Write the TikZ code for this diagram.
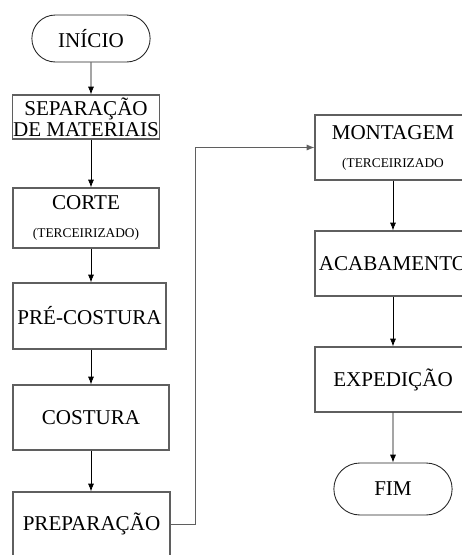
\documentclass[tikz,border=0pt]{standalone}
\usepackage{fontspec}
\setmainfont{Liberation Serif}
\usetikzlibrary{
  shapes.misc,
  arrows.meta,
  positioning
}
\definecolor{boxgray}{RGB}{95,95,95}
\newcommand{\terc}[1]{{\fontsize{7.6}{9}\selectfont #1}}

\begin{document}
\begin{tikzpicture}[
  x=0.02cm, y=-0.02cm,
  etapa/.style={
    rectangle, draw=boxgray, line width=0.6pt,
    align=center, inner sep=1pt,
    font=\fontsize{12}{15}\selectfont
  },
  terminal/.style={
    rounded rectangle, draw=black!85, line width=0.5pt,
    minimum width=2.6cm,
    font=\fontsize{12}{15}\selectfont
  },
  seta/.style={-{Latex[length=4.5pt,width=3.5pt]}, line width=0.5pt}
]
  \useasboundingbox (0,0) rectangle (462,555);
  \clip (0,0) rectangle (462,555);

  % coluna da esquerda
  \node[terminal, minimum height=0.94cm] (inicio) at (91,38.5) {INÍCIO};
  \node[etapa, minimum width=2.92cm, minimum height=0.88cm, inner sep=0.5pt] (sep) at (86,117)
       {SEPARAÇÃO\\[-3pt]DE MATERIAIS};
  \node[etapa, minimum width=2.92cm, minimum height=1.2cm] (corte) at (86,218)
       {CORTE\\[1pt]\terc{(TERCEIRIZADO)}};
  \node[etapa, minimum width=3.06cm, minimum height=1.32cm] (precost) at (89.5,316)
       {PRÉ-COSTURA};
  \node[etapa, minimum width=3.12cm, minimum height=1.3cm] (costura) at (91,417.5)
       {COSTURA};
  \node[etapa, minimum width=3.14cm, minimum height=1.28cm] (prep) at (91.5,524)
       {PREPARAÇÃO};

  % coluna da direita
  \node[etapa, minimum width=3.12cm, minimum height=1.3cm] (mont) at (393,147.5)
       {MONTAGEM\\[1pt]\terc{(TERCEIRIZADO}};
  \node[etapa, minimum width=3.12cm, minimum height=1.3cm] (acab) at (393,263.5)
       {ACABAMENTO};
  \node[etapa, minimum width=3.12cm, minimum height=1.3cm] (exped) at (393,379.5)
       {EXPEDIÇÃO};
  \node[terminal, minimum height=1.04cm] (fim) at (393,489) {FIM};

  % setas
  \draw[seta] (inicio) -- (inicio |- sep.north);
  \draw[seta] (sep.south -| inicio) -- (inicio |- corte.north);
  \draw[seta] (corte.south -| inicio) -- (inicio |- precost.north);
  \draw[seta] (precost.south -| inicio) -- (inicio |- costura.north);
  \draw[seta] (costura.south -| inicio) -- (inicio |- prep.north);
  \draw[seta, draw=boxgray] (prep.east) -- ++(25,0) |- (mont.west);
  \draw[seta] (mont) -- (acab);
  \draw[seta] (acab) -- (exped);
  \draw[seta] (exped) -- (fim);
\end{tikzpicture}
\end{document}
